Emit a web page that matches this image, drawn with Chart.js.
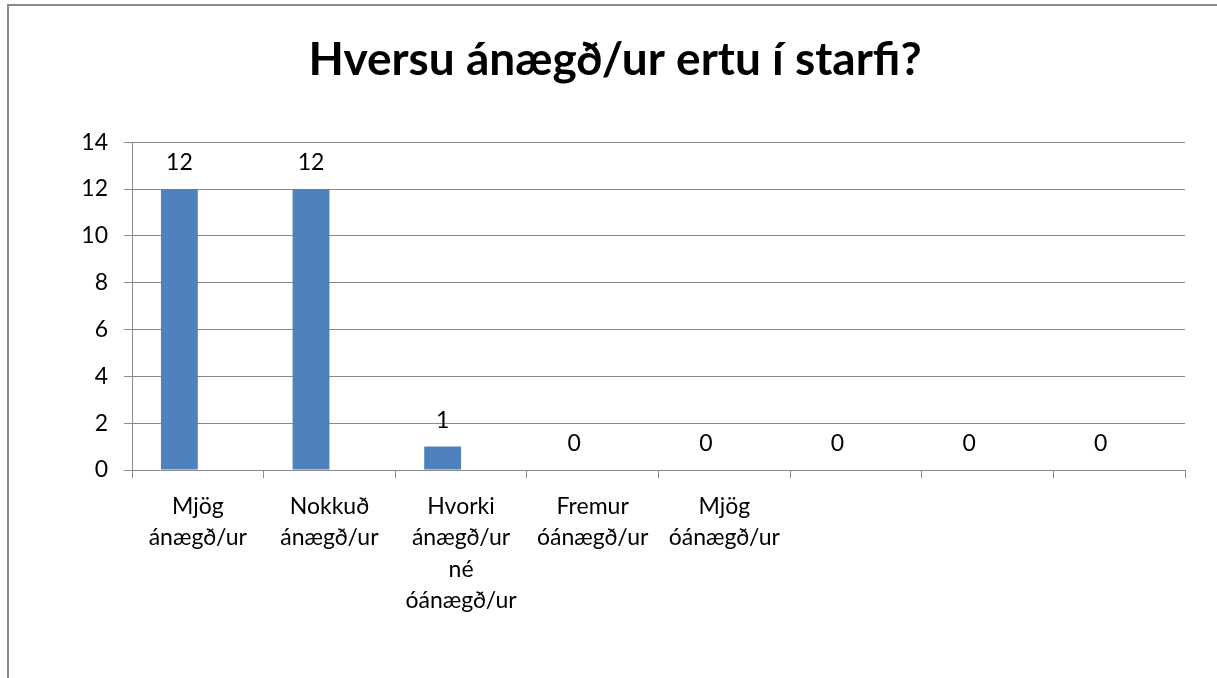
<!DOCTYPE html>
<html>
<head>
<meta charset="utf-8">
<script src="https://cdn.jsdelivr.net/npm/chart.js@4"></script>
<style>
  html, body { margin: 0; padding: 0; background: #fff; }
  #wrap { position: relative; width: 1217px; height: 678px; overflow: hidden; }
  #frame { position: absolute; left: 7px; top: 4px; right: -4px; bottom: -4px; border-left: 2px solid #8a8a8a; border-top: 2px solid #8a8a8a; }
  canvas { position: absolute; left: 0; top: 0; }
</style>
</head>
<body>
<div id="wrap">
  <div id="frame"></div>
  <canvas id="chart" width="1217" height="678"></canvas>
</div>
<script>
const categories = [
  ["Mjög", "ánægð/ur"],
  ["Nokkuð", "ánægð/ur"],
  ["Hvorki", "ánægð/ur", "né", "óánægð/ur"],
  ["Fremur", "óánægð/ur"],
  ["Mjög", "óánægð/ur"],
  "",
  "",
  ""
];
const answers = [12, 12, 1, 0, 0, 0, 0, 0];
const emptySeries = [null, null, null, null, null, null, null, null];
const yTicks = [0, 2, 4, 6, 8, 10, 12, 14];

const FONT = "Lato, 'Open Sans', sans-serif";

// draws the value above each bar of the first series
const valueLabels = {
  id: 'valueLabels',
  afterDatasetsDraw(chart) {
    const ctx = chart.ctx;
    const meta = chart.getDatasetMeta(0);
    ctx.save();
    ctx.font = '23px ' + FONT;
    ctx.fillStyle = '#000';
    ctx.textAlign = 'center';
    ctx.textBaseline = 'middle';
    meta.data.forEach((bar, i) => {
      const v = chart.data.datasets[0].data[i];
      ctx.fillText(String(v), bar.x, bar.y - 26);
    });
    ctx.restore();
  }
};

new Chart(document.getElementById('chart').getContext('2d'), {
  type: 'bar',
  data: {
    labels: categories,
    datasets: [
      {
        label: 'Hversu ánægð/ur ertu í starfi?',
        data: answers,
        backgroundColor: '#4F81BD',
        categoryPercentage: 0.56,
        barPercentage: 1.0
      },
      {
        label: '',
        data: emptySeries,
        backgroundColor: '#C0504D',
        categoryPercentage: 0.56,
        barPercentage: 1.0
      }
    ]
  },
  options: {
    responsive: false,
    animation: false,
    layout: { padding: { left: 45, right: 32, top: 0, bottom: 0 } },
    plugins: {
      legend: { display: false },
      tooltip: { enabled: false },
      title: {
        display: true,
        text: 'Hversu ánægð/ur ertu í starfi?',
        color: '#000',
        font: { family: FONT, size: 46, weight: 'bold' },
        padding: { top: 33, bottom: 54 }
      }
    },
    scales: {
      x: {
        afterFit(scale) { scale.height = 208; },
        grid: {
          offset: true,
          drawOnChartArea: false,
          drawTicks: true,
          tickLength: 8,
          color: '#8a8a8a'
        },
        border: { color: '#8a8a8a', width: 1 },
        ticks: {
          color: '#000',
          font: { family: FONT, size: 23, lineHeight: 1.36 },
          maxRotation: 0,
          autoSkip: false,
          padding: 13
        }
      },
      y: {
        min: 0,
        max: 14,
        afterBuildTicks(scale) {
          scale.ticks = yTicks.map(v => ({ value: v }));
        },
        afterFit(scale) { scale.width = 87; },
        grid: {
          color: '#8a8a8a',
          tickLength: 8
        },
        border: { color: '#8a8a8a', width: 1 },
        ticks: {
          color: '#000',
          font: { family: FONT, size: 23 },
          padding: 16
        }
      }
    }
  },
  plugins: [valueLabels]
});
</script>
</body>
</html>
